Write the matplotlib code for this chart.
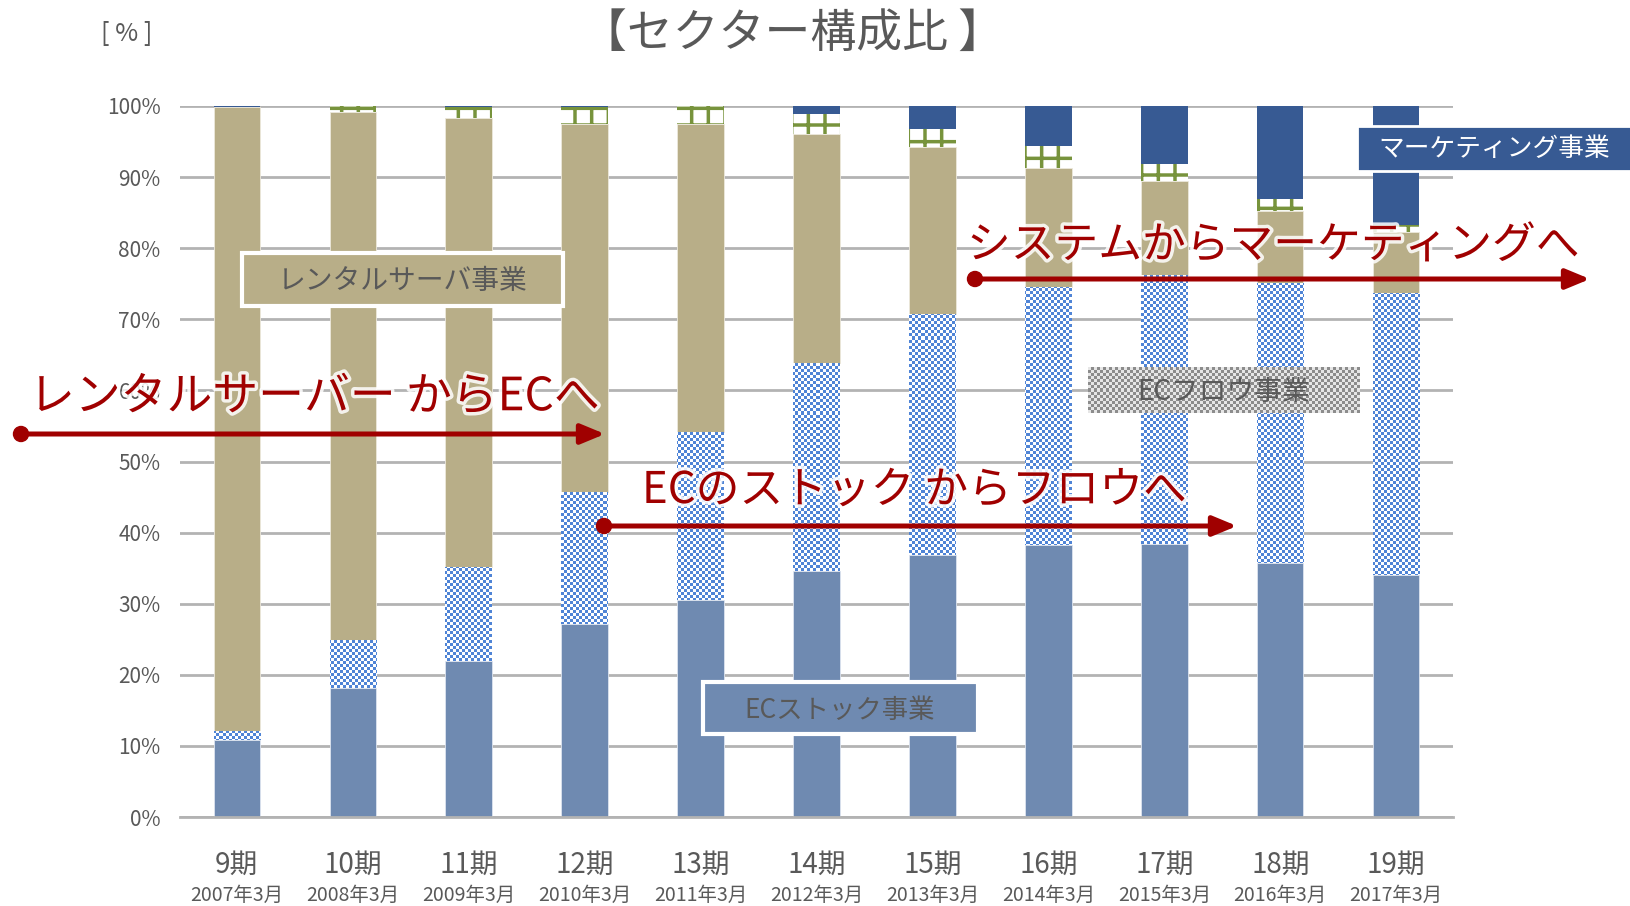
import numpy as np
import matplotlib
matplotlib.use('Agg')
import matplotlib.pyplot as plt
from matplotlib.patches import Rectangle, Circle, FancyArrowPatch, ArrowStyle
from matplotlib.colors import ListedColormap
import matplotlib.transforms as mtransforms
import matplotlib.patheffects as pe

plt.rcParams['font.family'] = ['Noto Sans CJK JP', 'DejaVu Sans']
plt.rcParams['hatch.linewidth'] = 2.5
plt.rcParams['hatch.color'] = '#77933c'

# ---------------- data ----------------
periods = ['9期', '10期', '11期', '12期', '13期', '14期', '15期', '16期', '17期', '18期', '19期']
dates = ['2007年3月', '2008年3月', '2009年3月', '2010年3月', '2011年3月', '2012年3月',
         '2013年3月', '2014年3月', '2015年3月', '2016年3月', '2017年3月']
ec_stock = [10.9, 18.2, 22.0, 27.1, 30.5, 34.6, 36.9, 38.2, 38.4, 35.7, 34.0]
ec_flow = [1.2, 6.7, 13.1, 18.6, 23.7, 29.3, 33.9, 36.4, 37.8, 39.4, 39.7]
rental = [87.7, 74.3, 63.2, 51.8, 43.2, 32.2, 23.4, 16.7, 13.3, 10.1, 8.6]
other = [0.0, 0.8, 1.6, 2.4, 2.6, 2.8, 2.6, 3.1, 2.3, 1.7, 0.9]
marketing = [0.2, 0.0, 0.1, 0.1, 0.0, 1.1, 3.2, 5.6, 8.2, 13.1, 16.8]
yticks = [0, 10, 20, 30, 40, 50, 60, 70, 80, 90, 100]
ytick_labels = ['0%', '10%', '20%', '30%', '40%', '50%', '60%', '70%', '80%', '90%', '100%']

title = '【セクター構成比 】'
unit = '[ % ]'
seg_labels = ['ECストック事業', 'ECフロウ事業', 'レンタルサーバ事業', 'マーケティング事業']
msg1 = 'レンタルサーバー からECへ'
msg2 = 'ECのストック からフロウへ'
msg3 = 'システムからマーケティングへ'

# ---------------- figure ----------------
W, H = 1631, 906
fig = plt.figure(figsize=(W / 100, H / 100), dpi=100)
px = mtransforms.Affine2D().scale(1 / W, -1 / H).translate(0, 1) + fig.transFigure

ax_l, ax_r, ax_t, ax_b = 180, 1453, 106, 817
ax = fig.add_axes([ax_l / W, 1 - ax_b / H, (ax_r - ax_l) / W, (ax_b - ax_t) / H])

x = np.arange(len(periods))
w = 0.4
c_stock = '#6f8ab1'
c_flow = '#4f84d6'
c_rental = '#b8ae88'
c_mkt = '#375a93'
c_text = '#595959'
c_red = '#a00000'

bottom = np.zeros(len(x))
ax.bar(x, ec_stock, w, bottom=bottom, color=c_stock, edgecolor='#dde4ef', linewidth=0.6, zorder=2)
bottom += np.array(ec_stock)
flow_bars = ax.bar(x, ec_flow, w, bottom=bottom, color='white', linewidth=0, zorder=2)
bottom += np.array(ec_flow)
ax.bar(x, rental, w, bottom=bottom, color=c_rental, edgecolor='#ece8dc', linewidth=0.6, zorder=2)
bottom += np.array(rental)
ax.bar(x, other, w, bottom=bottom, facecolor='white', edgecolor='#77933c', hatch='+',
       linewidth=0, zorder=2)
bottom += np.array(other)
ax.bar(x, marketing, w, bottom=bottom, color=c_mkt, linewidth=0, zorder=2)

xlim = (-0.49, len(x) - 0.51)
ylim = (0, 100)
ny = int((ax_b - ax_t) / 3)
nx = int((ax_r - ax_l) / 3)
checker = (np.add.outer(np.arange(ny), np.arange(nx)) % 2).astype(float)
cmap_flow = ListedColormap(['white', c_flow])
for p in flow_bars.patches:
    im = ax.imshow(checker, extent=(xlim[0], xlim[1], ylim[0], ylim[1]), cmap=cmap_flow,
                   interpolation='nearest', aspect='auto', zorder=2.5, origin='lower')
    im.set_clip_path(p)

ax.set_xlim(*xlim)
ax.set_ylim(*ylim)
ax.set_yticks(yticks)
ax.set_yticklabels(ytick_labels, fontsize=15, color=c_text)
ax.set_xticks(x)
ax.set_xticklabels([''] * len(x))
ax.tick_params(axis='both', length=0)
ax.tick_params(axis='y', pad=14)
ax.grid(axis='y', color='#b3b3b3', linewidth=2, zorder=0)
ax.set_axisbelow(True)
for s in ['top', 'right', 'left']:
    ax.spines[s].set_visible(False)
ax.spines['bottom'].set_color('#b3b3b3')
ax.spines['bottom'].set_linewidth(2)

tr = mtransforms.blended_transform_factory(ax.transData, px)
for xi, p, d in zip(x, periods, dates):
    ax.text(xi, 865, p, transform=tr, ha='center', va='center', fontsize=20, color=c_text)
    ax.text(xi, 895, d, transform=tr, ha='center', va='center', fontsize=14, color=c_text)

# title and unit
fig.text(793, 34, title, transform=px, ha='center', va='center', fontsize=33, color=c_text)
fig.text(127, 34, unit, transform=px, ha='center', va='center', fontsize=18, color=c_text)

# ---------------- segment label boxes ----------------
def box(x0, y0, x1, y1, fc, ec='white', lw=3, z=4):
    r = Rectangle((x0, y1), x1 - x0, y0 - y1, transform=px, facecolor=fc, edgecolor=ec,
                  linewidth=lw, zorder=z)
    fig.add_artist(r)

box(242, 253, 563, 306, c_rental)
fig.text(403, 281, seg_labels[2], transform=px, ha='center', va='center', fontsize=20,
         color=c_text, zorder=5)

box(703, 682, 978, 734, c_stock)
fig.text(840, 710, seg_labels[0], transform=px, ha='center', va='center', fontsize=19,
         color=c_text, zorder=5)

# checkered gray box for ECフロウ
fx0, fy0, fx1, fy1 = 1088, 367, 1360, 413
bax = fig.add_axes([fx0 / W, 1 - fy1 / H, (fx1 - fx0) / W, (fy1 - fy0) / H])
bny, bnx = int((fy1 - fy0) / 3), int((fx1 - fx0) / 3)
bcheck = (np.add.outer(np.arange(bny), np.arange(bnx)) % 2).astype(float)
bax.imshow(bcheck, cmap=ListedColormap(['#e6e6e6', '#8c8c8c']), interpolation='nearest',
           aspect='auto')
bax.set_axis_off()
fig.text(1224, 392, seg_labels[1], transform=px, ha='center', va='center', fontsize=20,
         color=c_text, zorder=5)

box(1357, 126, 1640, 171, c_mkt, ec='white', lw=2)
fig.text(1494, 149, seg_labels[3], transform=px, ha='center', va='center', fontsize=18.5,
         color='white', zorder=5)

# ---------------- red arrows ----------------
glow = [pe.withStroke(linewidth=5, foreground='white', alpha=0.85)]

def arrow(xs, xe, y):
    a = FancyArrowPatch((xs, y), (xe, y), transform=px,
                        arrowstyle=ArrowStyle('-|>', head_length=1.45, head_width=0.6),
                        mutation_scale=10, color=c_red, linewidth=3.6, shrinkA=0, shrinkB=0,
                        zorder=6)
    fig.add_artist(a)
    fig.add_artist(Circle((xs, y), 7.5, transform=px, color=c_red, zorder=6))

fig.text(29, 397, msg1, transform=px, ha='left', va='center', fontsize=33, color=c_red,
         zorder=7, path_effects=glow)
arrow(21, 605, 434)

fig.text(642, 490, msg2, transform=px, ha='left', va='center', fontsize=31.5, color=c_red,
         zorder=7, path_effects=glow)
arrow(604, 1237, 526)

fig.text(967, 245, msg3, transform=px, ha='left', va='center', fontsize=31.5, color=c_red,
         zorder=7, path_effects=glow)
arrow(975, 1590, 279)

fig.savefig('out.png', dpi=100, facecolor='white')
